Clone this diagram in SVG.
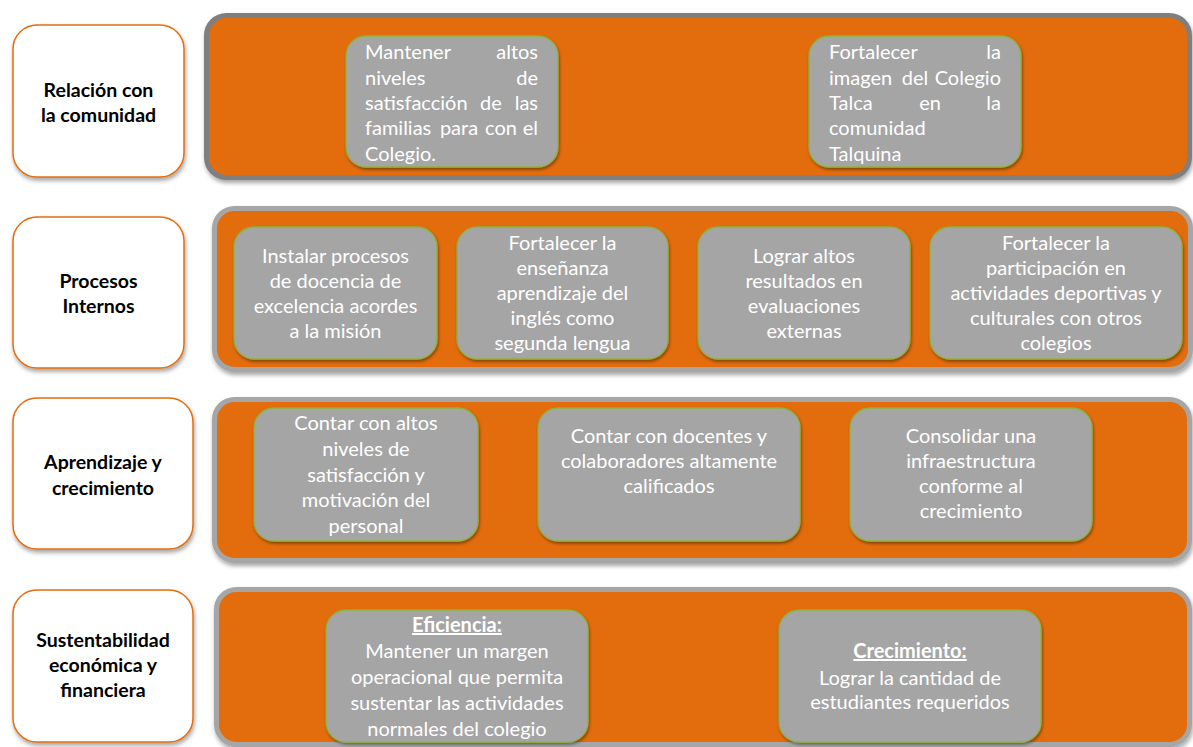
<svg xmlns="http://www.w3.org/2000/svg" width="1193" height="747" viewBox="0 0 1193 747">
<defs>
<filter id="sh" x="-10%" y="-10%" width="120%" height="130%">
<feDropShadow dx="1" dy="3" stdDeviation="2" flood-color="#000" flood-opacity="0.35"/>
</filter>
<filter id="shs" x="-10%" y="-10%" width="120%" height="130%">
<feDropShadow dx="1" dy="2" stdDeviation="1.5" flood-color="#000" flood-opacity="0.4"/>
</filter>
<style>
.lab{fill:#fff;stroke:#E36C0A;stroke-width:1.5;filter:url(#sh)}
.panel{fill:#E36C0A;stroke:#A6A6A6;stroke-width:5;filter:url(#sh)}
.panel1{stroke:#7F7F7F}
.box{fill:#A5A5A5;stroke:#8DB43E;stroke-width:1.3;filter:url(#shs)}
.lt{font-family:Lato,Carlito,"Liberation Sans",sans-serif;font-size:19.5px;font-weight:bold;fill:#000;text-anchor:middle}
.bt{font-family:Lato,Carlito,"Liberation Sans",sans-serif;font-size:20px;fill:#fff;text-anchor:middle}
.s{text-anchor:start}
.e{text-anchor:end}
.u{font-weight:bold;text-decoration:underline}
</style>
</defs>
<rect width="1193" height="747" fill="#fff"/>

<g id="row1">
<g id="label-relacion">
<rect class="lab" x="13" y="25" width="171" height="152" rx="24"/>
<text class="lt" x="98.5" y="97">Relación con</text>
<text class="lt" x="98.5" y="122">la comunidad</text>
</g>
<g id="panel-relacion">
<rect class="panel panel1" x="206.5" y="15.5" width="983" height="162" rx="20"/>
</g>
<g id="obj-satisfaccion">
<rect class="box" x="346" y="36" width="212" height="131" rx="20"/>
<text class="bt s" x="365" y="59">Mantener</text><text class="bt e" x="538" y="59">altos</text>
<text class="bt s" x="365" y="85">niveles</text><text class="bt e" x="538" y="85">de</text>
<text class="bt s" x="365" y="110">satisfacción</text><text class="bt" x="491" y="110">de</text><text class="bt e" x="538" y="110">las</text>
<text class="bt s" x="365" y="135">familias</text><text class="bt" x="459" y="135">para</text><text class="bt" x="501" y="135">con</text><text class="bt e" x="538" y="135">el</text>
<text class="bt s" x="365" y="161">Colegio.</text>
</g>
<g id="obj-imagen">
<rect class="box" x="809" y="36" width="212" height="131" rx="20"/>
<text class="bt s" x="829" y="59">Fortalecer</text><text class="bt e" x="1001" y="59">la</text>
<text class="bt s" x="829" y="85">imagen</text><text class="bt" x="915" y="85">del</text><text class="bt e" x="1001" y="85">Colegio</text>
<text class="bt s" x="829" y="110">Talca</text><text class="bt" x="930" y="110">en</text><text class="bt e" x="1001" y="110">la</text>
<text class="bt s" x="829" y="135">comunidad</text>
<text class="bt s" x="829" y="161">Talquina</text>
</g>
</g>

<g id="row2">
<g id="label-procesos">
<rect class="lab" x="13" y="217" width="171" height="151" rx="24"/>
<text class="lt" x="98.5" y="288">Procesos</text>
<text class="lt" x="98.5" y="313">Internos</text>
</g>
<g id="panel-procesos">
<rect class="panel" x="214.5" y="208.5" width="976" height="161" rx="20"/>
</g>
<g id="obj-docencia">
<rect class="box" x="234" y="227" width="203" height="132" rx="20"/>
<text class="bt" x="335.5" y="263">Instalar procesos</text>
<text class="bt" x="335.5" y="288">de docencia de</text>
<text class="bt" x="335.5" y="313">excelencia acordes</text>
<text class="bt" x="335.5" y="338">a la misión</text>
</g>
<g id="obj-ingles">
<rect class="box" x="457" y="227" width="211" height="132" rx="20"/>
<text class="bt" x="562.5" y="250">Fortalecer la</text>
<text class="bt" x="562.5" y="275">enseñanza</text>
<text class="bt" x="562.5" y="300">aprendizaje del</text>
<text class="bt" x="562.5" y="325">inglés como</text>
<text class="bt" x="562.5" y="350">segunda lengua</text>
</g>
<g id="obj-evaluaciones">
<rect class="box" x="698" y="227" width="212" height="132" rx="20"/>
<text class="bt" x="804" y="263">Lograr altos</text>
<text class="bt" x="804" y="288">resultados en</text>
<text class="bt" x="804" y="313">evaluaciones</text>
<text class="bt" x="804" y="338">externas</text>
</g>
<g id="obj-participacion">
<rect class="box" x="930" y="227" width="252" height="132" rx="20"/>
<text class="bt" x="1056" y="250">Fortalecer la</text>
<text class="bt" x="1056" y="275">participación en</text>
<text class="bt" x="1056" y="300">actividades deportivas y</text>
<text class="bt" x="1056" y="325">culturales con otros</text>
<text class="bt" x="1056" y="350">colegios</text>
</g>
</g>

<g id="row3">
<g id="label-aprendizaje">
<rect class="lab" x="13" y="398" width="180" height="151" rx="24"/>
<text class="lt" x="103" y="469">Aprendizaje y</text>
<text class="lt" x="103" y="495">crecimiento</text>
</g>
<g id="panel-aprendizaje">
<rect class="panel" x="214.5" y="399.5" width="975" height="161" rx="20"/>
</g>
<g id="obj-personal">
<rect class="box" x="254" y="408" width="224" height="133" rx="20"/>
<text class="bt" x="366" y="430">Contar con altos</text>
<text class="bt" x="366" y="456">niveles de</text>
<text class="bt" x="366" y="482">satisfacción y</text>
<text class="bt" x="366" y="507">motivación del</text>
<text class="bt" x="366" y="533">personal</text>
</g>
<g id="obj-docentes">
<rect class="box" x="538" y="408" width="262" height="133" rx="20"/>
<text class="bt" x="669" y="443">Contar con docentes y</text>
<text class="bt" x="669" y="468">colaboradores altamente</text>
<text class="bt" x="669" y="493">calificados</text>
</g>
<g id="obj-infraestructura">
<rect class="box" x="850" y="408" width="242" height="133" rx="20"/>
<text class="bt" x="971" y="443">Consolidar una</text>
<text class="bt" x="971" y="468">infraestructura</text>
<text class="bt" x="971" y="493">conforme al</text>
<text class="bt" x="971" y="518">crecimiento</text>
</g>
</g>

<g id="row4">
<g id="label-sustentabilidad">
<rect class="lab" x="13" y="590" width="180" height="152" rx="24"/>
<text class="lt" x="103" y="647">Sustentabilidad</text>
<text class="lt" x="103" y="672">económica y</text>
<text class="lt" x="103" y="697">financiera</text>
</g>
<g id="panel-sustentabilidad">
<rect class="panel" x="216.5" y="589.5" width="973" height="155" rx="20"/>
</g>
<g id="obj-eficiencia">
<rect class="box" x="326" y="610" width="262" height="132" rx="20"/>
<text class="bt u" x="457" y="632">Eficiencia:</text>
<text class="bt" x="457" y="658">Mantener un margen</text>
<text class="bt" x="457" y="684">operacional que permita</text>
<text class="bt" x="457" y="710">sustentar las actividades</text>
<text class="bt" x="457" y="736">normales del colegio</text>
</g>
<g id="obj-crecimiento">
<rect class="box" x="779" y="610" width="262" height="132" rx="20"/>
<text class="bt u" x="910" y="658">Crecimiento:</text>
<text class="bt" x="910" y="685">Lograr la cantidad de</text>
<text class="bt" x="910" y="709">estudiantes requeridos</text>
</g>
</g>

<g id="connectors"/>
</svg>
